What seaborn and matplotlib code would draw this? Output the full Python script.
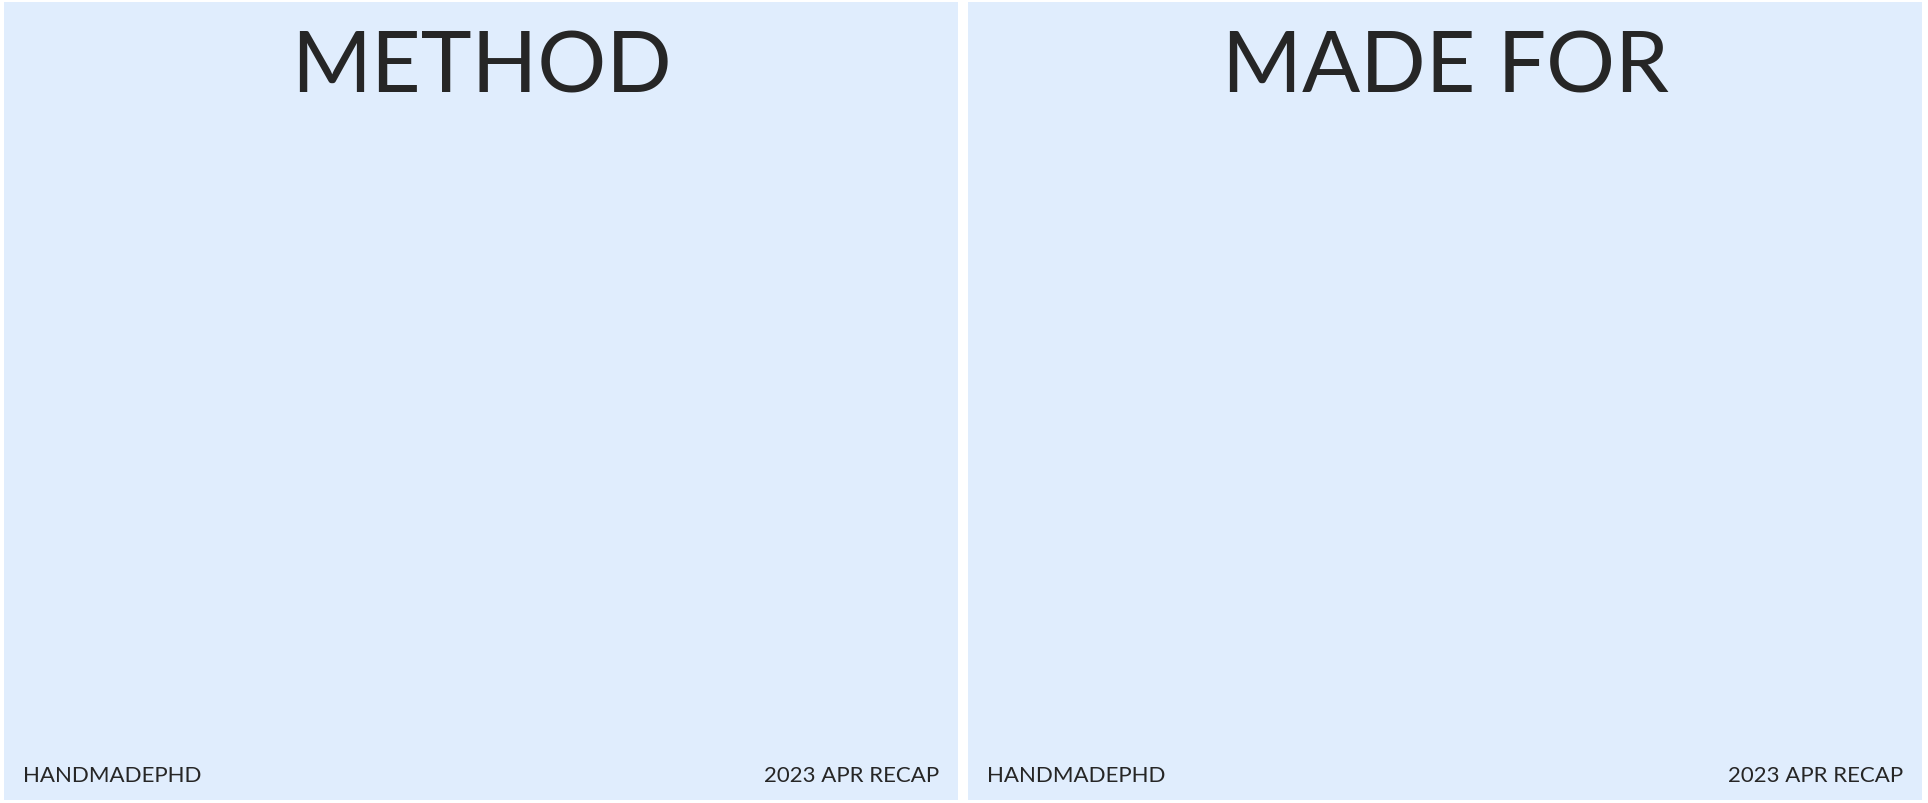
import matplotlib
matplotlib.use("Agg")
import matplotlib.pyplot as plt
import seaborn as sns
from matplotlib.patches import Rectangle

sns.set_theme(style="white")
plt.rcParams['font.family'] = ['Lato', 'DejaVu Sans']

# Data
method_labels = ["KNIT", "SEW"]
method_counts = [1, 7]
method_colors = ["#DCCFFC", "#FFC700"]
madefor_labels = ["ME", "NOT ME"]
madefor_counts = [3, 5]
madefor_colors = ["#FFC4DE", "#FFC700"]
titles = ["METHOD", "MADE FOR"]
footer_left = "HANDMADEPHD"
footer_right = "2023 APR RECAP"

BG = "#E0EDFD"
W, H = 19.28, 8.04
fig = plt.figure(figsize=(W, H), dpi=100, facecolor="white")

panels = [(0.002, 0.497), (0.502, 0.997)]
for (x0, x1) in panels:
    fig.patches.append(Rectangle((x0, 0.004), x1 - x0, 0.992, transform=fig.transFigure,
                                 facecolor=BG, edgecolor="none", zorder=0))

def donut(cx, counts, colors, start, labels, leaders):
    ah = 0.87
    aw = ah * H / W
    ax = fig.add_axes([cx - aw / 2, 0.48 - ah / 2, aw, ah])
    ax.set_facecolor("none")
    ax.pie(counts, colors=colors, startangle=start, counterclock=True,
           wedgeprops=dict(width=0.34, edgecolor=BG, linewidth=5),
           autopct="%.1f%%", pctdistance=0.83,
           textprops=dict(fontsize=15, color="black"))
    ax.set_xlim(-1.5, 1.5)
    ax.set_ylim(-1.5, 1.5)
    ax.set_aspect("equal")
    ax.text(0, 0, str(sum(counts)), ha="center", va="center", fontsize=80)
    for lab, (pts, tx, ty, ha) in zip(labels, leaders):
        xs, ys = zip(*pts)
        ax.plot(xs, ys, color="black", lw=0.7)
        ax.text(tx, ty, lab, ha=ha, va="center", fontsize=16)
    return ax

donut(0.255, method_counts, method_colors, -5, method_labels, [
    ([(0.955, 0.30), (1.10, 0.34)], 1.13, 0.35, "left"),
    ([(-0.955, -0.30), (-1.08, -0.34)], -1.11, -0.32, "right"),
])
donut(0.756, madefor_counts, madefor_colors, 15, madefor_labels, [
    ([(0.21, 1.01), (0.22, 1.10), (1.10, 1.10)], 1.12, 1.10, "left"),
    ([(-0.21, -1.0), (-0.21, -1.09), (-1.10, -1.09)], -1.12, -1.09, "right"),
])

for (x0, x1), t in zip(panels, titles):
    fig.text((x0 + x1) / 2, 0.915, t, ha="center", va="center", fontsize=62)
    fig.text(x0 + 0.010, 0.035, footer_left, ha="left", va="center", fontsize=16)
    fig.text(x1 - 0.010, 0.035, footer_right, ha="right", va="center", fontsize=16)

fig.savefig("out.png", dpi=100, facecolor="white")
